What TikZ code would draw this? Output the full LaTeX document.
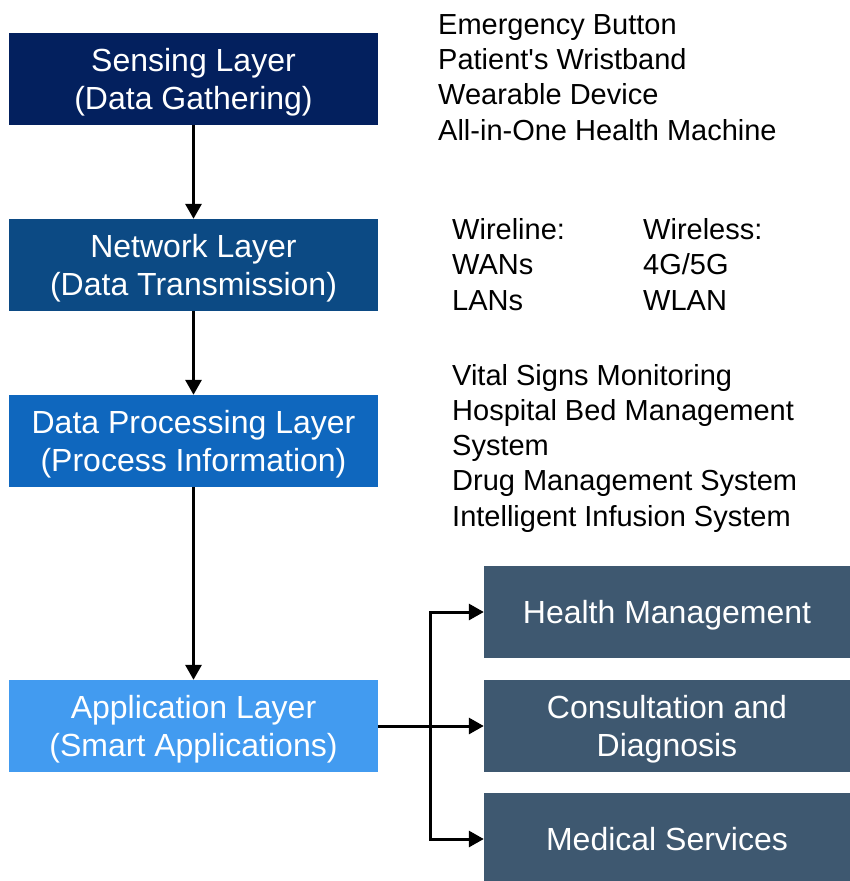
\documentclass[tikz,border=0pt]{standalone}
\usepackage{fontspec}
\setmainfont{Liberation Sans}
\usepackage{xcolor}
\usetikzlibrary{arrows.meta,positioning}
\definecolor{sensecol}{HTML}{03205E}
\definecolor{netcol}{HTML}{0C4A84}
\definecolor{proccol}{HTML}{0F67BE}
\definecolor{appcol}{HTML}{429BF0}
\definecolor{sidecol}{HTML}{3E5870}

\begin{document}
\begin{tikzpicture}[
    x=1pt,
    y=-1pt,
    >={Triangle[width=16pt,length=15pt]},
    layer/.style={
        minimum width=369pt,
        minimum height=92pt,
        inner sep=0pt,
        text depth=0pt,
        align=center,
        text=white,
        font=\fontsize{32}{38}\selectfont
    },
    side/.style={
        minimum width=366pt,
        minimum height=92pt,
        inner sep=0pt,
        text depth=0pt,
        align=center,
        text=white,
        fill=sidecol,
        font=\fontsize{32}{38}\selectfont
    },
    txt/.style={
        anchor=base west,
        inner sep=0pt,
        align=left,
        font=\fontsize{29}{35.2}\selectfont
    },
    arr/.style={->, line width=3pt}
]
\useasboundingbox (0,0) rectangle (850,881);

% layers: left column
\node[layer, fill=sensecol] (sense) at (193.5,79) {Sensing Layer\\(Data Gathering)};
\node[layer, fill=netcol] (net) at (193.5,265) {Network Layer\\(Data Transmission)};
\node[layer, fill=proccol] (proc) at (193.5,441) {Data Processing Layer\\(Process Information)};
\node[layer, fill=appcol] (app) at (193.5,726) {Application Layer\\(Smart Applications)};

\draw[arr] (sense) -- (net);
\draw[arr] (net) -- (proc);
\draw[arr] (proc) -- (app);

% applications: right column
\node[side] (health) at (667,612) {Health Management};
\node[side] (consult) at (667,726) {Consultation and\\Diagnosis};
\node[side] (medical) at (667,839) {Medical Services};

\coordinate (split) at (430,726);
\draw[arr] (app.east) -- (consult.west);
\draw[arr] (split) |- (health.west);
\draw[arr] (split) |- (medical.west);

% notes beside the layers (anchored at the last line)
\node[txt] (devices) at (438,140) {Emergency Button\\Patient\textquotesingle s Wristband\\Wearable Device\\All-in-One Health Machine};
\node[txt] (wireline) at (452,310) {Wireline:\\WANs\\LANs};
\node[txt] (wireless) at (643,310) {Wireless:\\4G/5G\\WLAN};
\node[txt] (systems) at (452,526) {Vital Signs Monitoring\\Hospital Bed Management\\System\\Drug Management System\\Intelligent Infusion System};

\end{tikzpicture}
\end{document}
